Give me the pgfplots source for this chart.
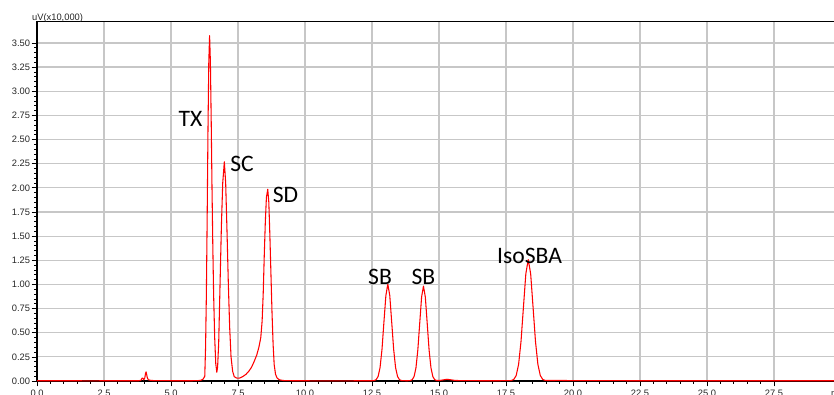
\documentclass[border=0pt]{standalone}
\usepackage{fontspec}
\setmainfont{Liberation Sans}
\newfontfamily\calibri{Carlito}
\usepackage{pgfplots}
\pgfplotsset{compat=1.18}
\begin{document}
\begin{tikzpicture}
\begin{axis}[
  at={(0,0)}, anchor=south west,
  scale only axis, width=603pt, height=269.5pt,
  xmin=0, xmax=30, ymin=0, ymax=3.72,
  xtick={0,2.5,5,7.5,10,12.5,15,17.5,20,22.5,25,27.5},
  ytick={0,0.25,0.5,0.75,1,1.25,1.5,1.75,2,2.25,2.5,2.75,3,3.25,3.5},
  minor x tick num=4, minor y tick num=4,
  tick align=outside, tick pos=left,
  major tick length=4pt, minor tick length=2.2pt,
  grid=major, major grid style={black!22, line width=0.9pt},
  axis line style={black, line width=0.9pt},
  every tick/.style={black, line width=0.5pt},
  ticklabel style={font=\fontsize{7}{8}\selectfont, text=black!85, inner sep=1pt},
  /pgf/number format/assume math mode=true,
  x tick label style={yshift=-1.6pt, /pgf/number format/.cd, fixed, fixed zerofill, precision=1, /tikz/.cd},
  y tick label style={/pgf/number format/.cd, fixed, fixed zerofill, precision=2, /tikz/.cd},
  clip=false,
]
\addplot[red, line width=0.8pt, line join=round] coordinates {
(0,0.003) (1,0.003) (2,0.002) (3,0.003) (3.80,0.003) (3.88,0.008) (3.92,0.03) (3.95,0.03) (3.98,0.012)
(4.02,0.03) (4.05,0.08) (4.07,0.095) (4.09,0.07) (4.12,0.03) (4.16,0.012) (4.25,0.006) (4.4,0.004)
(5,0.003) (5.8,0.003) (6.0,0.004) (6.12,0.008) (6.20,0.02)
(6.26,0.05) (6.29,0.35) (6.32,0.9) (6.35,1.7) (6.38,2.6) (6.41,3.3) (6.44,3.575) (6.47,3.3)
(6.50,2.7) (6.53,2.0) (6.56,1.4) (6.59,0.9) (6.63,0.45) (6.67,0.18) (6.71,0.09)
(6.74,0.15) (6.78,0.4) (6.83,1.0) (6.88,1.6) (6.93,2.05) (6.99,2.27) (7.04,2.05) (7.09,1.55)
(7.14,1.0) (7.19,0.55) (7.24,0.25) (7.30,0.1) (7.36,0.045) (7.45,0.03) (7.55,0.03)
(7.60,0.035) (7.70,0.05) (7.80,0.07) (7.90,0.10) (8.00,0.14) (8.10,0.20) (8.20,0.27) (8.28,0.35)
(8.35,0.45) (8.40,0.62) (8.44,0.9) (8.48,1.3) (8.52,1.65) (8.56,1.9) (8.61,1.985) (8.65,1.85)
(8.69,1.5) (8.73,1.1) (8.77,0.7) (8.81,0.38) (8.85,0.17) (8.90,0.07) (8.96,0.03) (9.05,0.012)
(9.20,0.005) (9.5,0.003) (10.5,0.002) (11.5,0.002) (12.5,0.003)
(12.583,0.005) (12.655,0.014) (12.728,0.047) (12.80,0.138) (12.873,0.328) (12.945,0.61)
(13.018,0.886) (13.09,1.003) (13.163,0.886) (13.235,0.61) (13.308,0.328) (13.38,0.138)
(13.453,0.047) (13.525,0.014) (13.598,0.005) (13.75,0.003) (13.85,0.003)
(13.93,0.005) (14.00,0.014) (14.07,0.046) (14.14,0.136) (14.21,0.321) (14.28,0.597)
(14.35,0.868) (14.42,0.983) (14.49,0.868) (14.56,0.597) (14.63,0.321) (14.70,0.136)
(14.77,0.046) (14.84,0.014) (14.91,0.005) (15.0,0.005) (15.15,0.011) (15.3,0.018) (15.45,0.012)
(15.6,0.006) (15.8,0.004) (16.5,0.003) (17.3,0.003)
(17.70,0.005) (17.79,0.016) (17.88,0.057) (17.97,0.172) (18.06,0.41) (18.15,0.763)
(18.24,1.11) (18.33,1.257) (18.42,1.11) (18.51,0.763) (18.60,0.41) (18.69,0.172)
(18.78,0.057) (18.87,0.016) (18.96,0.006) (19.1,0.005) (19.5,0.006) (20,0.004) (21,0.004)
(22,0.003) (24,0.003) (26,0.003) (28,0.003) (30,0.003)
};
\node[anchor=base west, inner sep=0pt, font=\fontsize{7}{8}\selectfont, text=black!85] at (axis cs:-0.19,3.735) {uV(x10,000)};
\node[anchor=north west, inner sep=0pt, font=\fontsize{7}{8}\selectfont, text=black!85] at (axis cs:29.62,-0.09) {min};
\node[anchor=base, inner sep=0pt, font=\calibri\fontsize{17.7}{20}\selectfont] at (axis cs:5.73,2.63) {TX};
\node[anchor=base, inner sep=0pt, font=\calibri\fontsize{17.7}{20}\selectfont] at (axis cs:7.65,2.164) {SC};
\node[anchor=base, inner sep=0pt, font=\calibri\fontsize{17.7}{20}\selectfont] at (axis cs:9.27,1.853) {SD};
\node[anchor=base, inner sep=0pt, font=\calibri\fontsize{17.7}{20}\selectfont] at (axis cs:12.80,1.004) {SB};
\node[anchor=base, inner sep=0pt, font=\calibri\fontsize{17.7}{20}\selectfont] at (axis cs:14.42,1.004) {SB};
\node[anchor=base, inner sep=0pt, font=\calibri\fontsize{17.7}{20}\selectfont] at (axis cs:18.38,1.2215) {IsoSBA};
\end{axis}
\pgfresetboundingbox
\useasboundingbox (-27.75pt,-9.75pt) rectangle (597.75pt,285.75pt);
\end{tikzpicture}
\end{document}
